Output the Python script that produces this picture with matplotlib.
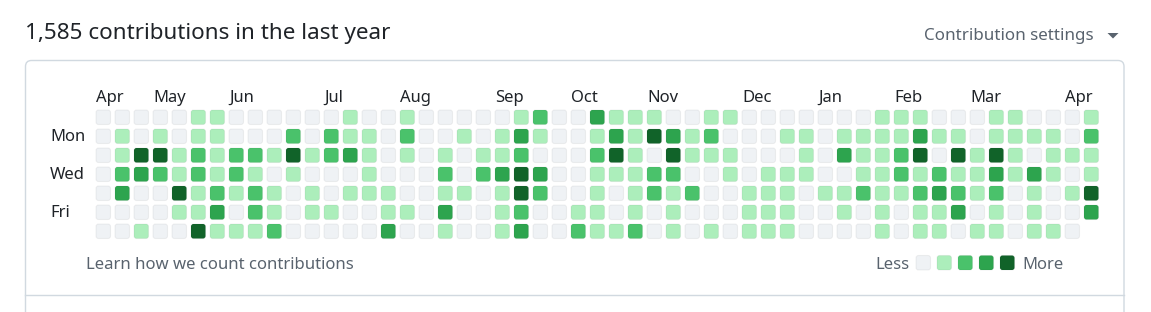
import numpy as np
import matplotlib
matplotlib.use("Agg")
import matplotlib.pyplot as plt
from matplotlib.patches import FancyBboxPatch, Polygon

plt.rcParams['font.family'] = ['Noto Sans', 'DejaVu Sans']

# contribution level (0-4) per day, one list per week, Sunday first
weeks = [
    [0, 0, 0, 0, 0, 0, 0],
    [0, 1, 1, 2, 3, 0, 0],
    [0, 0, 4, 3, 0, 0, 1],
    [0, 1, 4, 2, 0, 0, 0],
    [0, 0, 1, 1, 4, 1, 0],
    [1, 1, 2, 2, 1, 1, 4],
    [1, 1, 1, 1, 2, 3, 1],
    [0, 0, 2, 2, 1, 0, 1],
    [0, 0, 2, 1, 2, 2, 1],
    [0, 0, 1, 0, 1, 1, 2],
    [0, 2, 4, 1, 0, 0, 0],
    [0, 0, 1, 0, 1, 1, 0],
    [0, 2, 2, 0, 0, 1, 0],
    [1, 1, 3, 0, 1, 0, 0],
    [0, 1, 1, 1, 1, 0, 0],
    [0, 0, 0, 0, 1, 1, 3],
    [1, 2, 1, 0, 0, 1, 0],
    [0, 0, 0, 0, 0, 0, 0],
    [0, 0, 1, 2, 1, 3, 1],
    [0, 1, 0, 0, 1, 0, 0],
    [0, 0, 1, 2, 0, 0, 0],
    [0, 1, 1, 3, 1, 1, 1],
    [1, 3, 2, 4, 4, 2, 3],
    [2, 1, 0, 3, 2, 0, 0],
    [0, 0, 0, 0, 0, 0, 0],
    [0, 0, 0, 0, 0, 1, 2],
    [3, 1, 2, 1, 1, 1, 1],
    [1, 3, 4, 1, 0, 0, 1],
    [1, 1, 1, 1, 1, 1, 2],
    [1, 4, 0, 2, 2, 0, 0],
    [0, 3, 4, 2, 1, 1, 1],
    [0, 1, 1, 0, 2, 0, 0],
    [1, 2, 1, 0, 0, 0, 1],
    [1, 0, 1, 1, 0, 0, 0],
    [0, 0, 0, 0, 1, 1, 1],
    [0, 0, 0, 1, 1, 1, 1],
    [0, 1, 0, 1, 1, 1, 1],
    [0, 1, 1, 1, 0, 0, 0],
    [0, 0, 0, 0, 1, 0, 0],
    [0, 1, 3, 0, 1, 1, 0],
    [0, 1, 1, 1, 2, 0, 0],
    [1, 1, 1, 1, 1, 1, 1],
    [1, 1, 2, 2, 1, 0, 0],
    [1, 3, 4, 1, 2, 1, 1],
    [0, 1, 0, 2, 3, 1, 1],
    [0, 1, 4, 1, 2, 3, 0],
    [0, 0, 1, 1, 1, 0, 1],
    [1, 1, 4, 3, 2, 1, 1],
    [1, 1, 1, 1, 0, 0, 0],
    [0, 1, 0, 3, 1, 1, 1],
    [0, 1, 1, 1, 0, 0, 1],
    [0, 0, 1, 0, 1, 0, 0],
    [1, 2, 1, 1, 4, 3],
]

months = ['Apr', 'May', 'Jun', 'Jul', 'Aug', 'Sep', 'Oct', 'Nov', 'Dec', 'Jan', 'Feb', 'Mar', 'Apr']
month_weeks = [0, 3, 7, 12, 16, 21, 25, 29, 34, 38, 42, 46, 51]
day_names = ['Mon', 'Wed', 'Fri']
day_rows = [1, 3, 5]
total = '1,585'

palette = ['#eff2f5', '#aceebb', '#4ac26b', '#2da44e', '#116329']
text_dark = '#1f2328'
text_muted = '#59636e'
border = '#d1d9e0'

W, H = 1151, 312
fig = plt.figure(figsize=(W / 100, H / 100), dpi=100)
ax = fig.add_axes([0, 0, 1, 1])
ax.set_xlim(0, W)
ax.set_ylim(H, 0)
ax.axis('off')

def px(v):
    return v * 72 / 100

# header
ax.text(25, 39.5, f'{total} contributions in the last year', fontsize=px(22.4),
        color=text_dark, va='baseline', ha='left')
ax.text(1094, 40.5, 'Contribution settings', fontsize=px(17),
        color=text_muted, va='baseline', ha='right')
ax.add_patch(Polygon([[1107.5, 33], [1118.5, 33], [1113, 38.5]], closed=True,
                     facecolor=text_muted, edgecolor='none'))

# card
ax.add_patch(FancyBboxPatch((25.5, 60.5), 1098.5, 300, boxstyle='round,pad=0,rounding_size=6',
                            facecolor='white', edgecolor=border, linewidth=1))
ax.plot([25.5, 1124], [295, 295], color=border, linewidth=1)

# grid
x0, y0, step, size = 96, 110, 19, 14.5
for c, wk in enumerate(weeks):
    for r, lvl in enumerate(wk):
        ax.add_patch(FancyBboxPatch((x0 + c * step, y0 + r * step), size, size,
                                    boxstyle='round,pad=0,rounding_size=2.5',
                                    facecolor=palette[lvl], edgecolor=(0.12, 0.14, 0.16, 0.06),
                                    linewidth=0.8))

for name, c in zip(months, month_weeks):
    ax.text(x0 + c * step, 101.5, name, fontsize=px(16.6), color=text_dark,
            va='baseline', ha='left')

for name, r in zip(day_names, day_rows):
    ax.text(50, y0 + r * step + size / 2 + 5, name, fontsize=px(16.6), color=text_dark,
            va='baseline', ha='left')

# footer
ax.text(86, 269, 'Learn how we count contributions', fontsize=px(16.7), color=text_muted,
        va='baseline', ha='left')
ax.text(910, 269, 'Less', fontsize=px(16.6), color=text_muted, va='baseline', ha='right')
for i, col in enumerate(palette):
    ax.add_patch(FancyBboxPatch((916 + i * 21, 255.5), size, size,
                                boxstyle='round,pad=0,rounding_size=2.5',
                                facecolor=col, edgecolor=(0.12, 0.14, 0.16, 0.06),
                                linewidth=0.8))
ax.text(1022, 269, 'More', fontsize=px(16.6), color=text_muted, va='baseline', ha='left')

fig.savefig('out.png', dpi=100, facecolor='white')
